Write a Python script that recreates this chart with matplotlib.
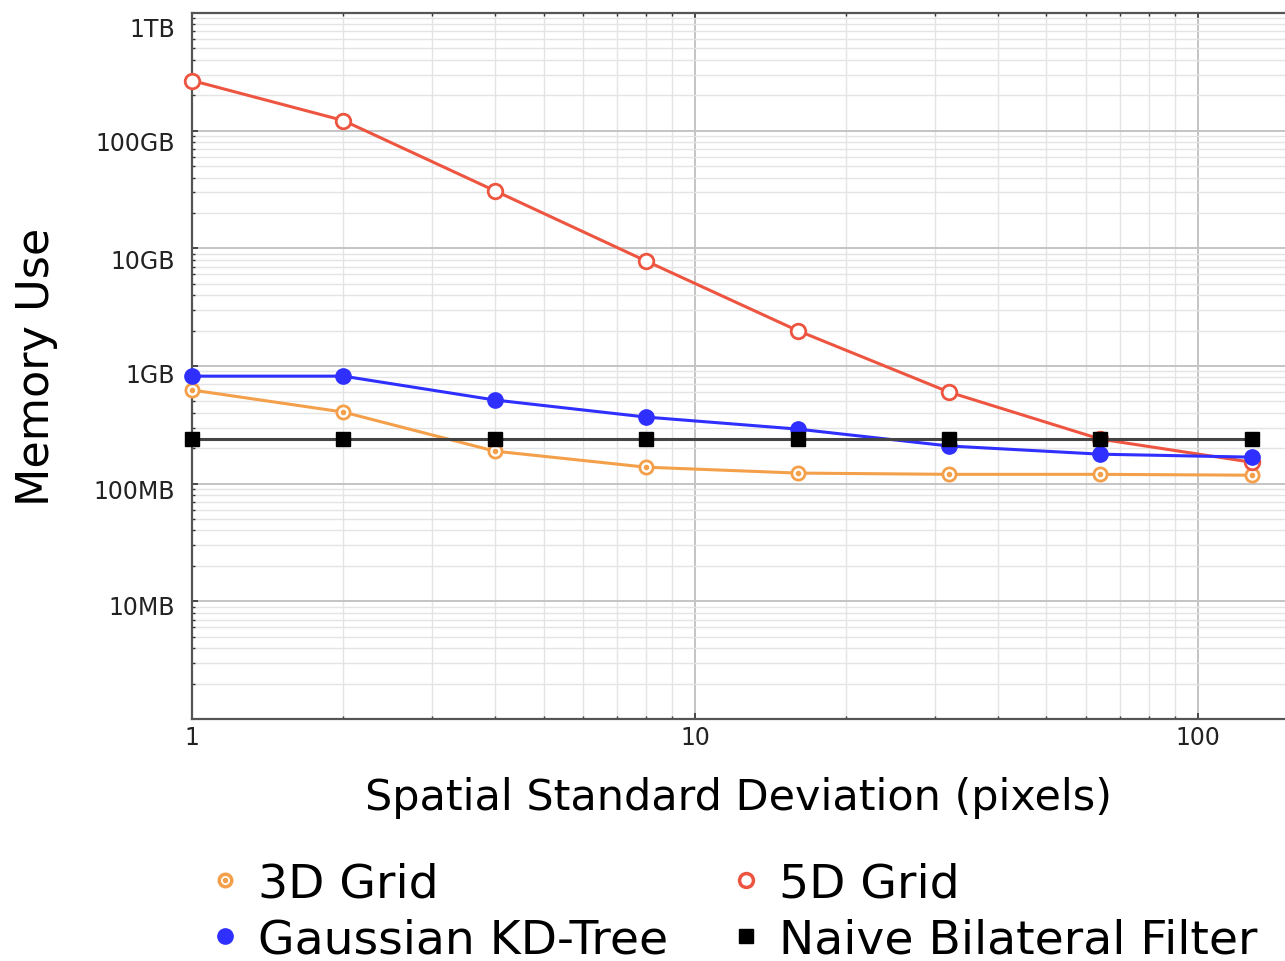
import numpy as np
import matplotlib.pyplot as plt
from matplotlib.lines import Line2D
from matplotlib.ticker import FixedLocator, NullFormatter, LogLocator
from matplotlib.transforms import ScaledTranslation

# spatial sigma (pixels) and memory use in GB
sigma = [1, 2, 4, 8, 16, 32, 64, 128]
grid3d = [0.625, 0.406, 0.189, 0.138, 0.123, 0.120, 0.120, 0.118]
grid5d = [267, 122, 30.9, 7.8, 2.0, 0.60, 0.239, 0.152]
kdtree = [0.82, 0.82, 0.514, 0.368, 0.291, 0.209, 0.178, 0.168]
naive = [0.239, 0.239, 0.239, 0.239, 0.239, 0.239, 0.239, 0.239]

ytick_vals = [0.01, 0.1, 1, 10, 100, 1000]
ytick_labels = ["10MB", "100MB", "1GB", "10GB", "100GB", "1TB"]
label_drop = [3, 5, 6, 10, 10, 13]   # px each y label sits below its tick

orange = "#f4a04a"
red = "#ee5541"
blue = "#2f2fff"

fig = plt.figure(figsize=(12.85, 9.62), dpi=100)
ax = fig.add_axes([0.1494, 0.2516, 0.8506, 0.7338])

ax.plot(sigma, grid3d, color=orange, lw=2.2, marker="o", ms=9.5,
        mfc="white", mec=orange, mew=2, zorder=3, clip_on=False)
ax.plot(sigma, grid3d, ls="none", marker="o", ms=3, color=orange,
        zorder=3.1, clip_on=False)
ax.plot(sigma, grid5d, color=red, lw=2.2, marker="o", ms=10.5,
        mfc="white", mec=red, mew=2, zorder=4, clip_on=False)
ax.plot(sigma, kdtree, color=blue, lw=2.2, marker="o", ms=11,
        mfc=blue, mec=blue, zorder=5, clip_on=False)
ax.plot(sigma, naive, color="#444444", lw=2.2, marker="s", ms=10,
        mfc="black", mec="black", zorder=6, clip_on=False)

ax.set_xscale("log")
ax.set_yscale("log")
ax.set_xlim(1, 149)
ax.set_ylim(0.001, 1000)

ax.yaxis.set_major_locator(FixedLocator(ytick_vals))
ax.set_yticklabels(ytick_labels)
ax.yaxis.set_minor_locator(LogLocator(base=10, subs=np.arange(2, 10)))
ax.yaxis.set_minor_formatter(NullFormatter())
ax.set_xticks([1, 10, 100])
ax.set_xticklabels(["1", "10", "100"])
ax.xaxis.set_minor_formatter(NullFormatter())

ax.grid(which="major", color="#c4c4c4", lw=1.4)
ax.grid(which="minor", color="#e4e4e4", lw=1.0)
ax.set_axisbelow(True)

ax.spines["right"].set_visible(False)
for s in ["left", "bottom", "top"]:
    ax.spines[s].set_color("#555555")
    ax.spines[s].set_linewidth(1.6)

ax.tick_params(which="both", direction="in", top=True, right=False,
               color="#333333", labelsize=17, labelcolor="#222222")
ax.tick_params(which="major", length=4, width=1.2)
ax.tick_params(which="minor", length=2.5, width=1)
ax.tick_params(axis="y", pad=12)
ax.tick_params(axis="x", pad=4)

for lbl, d in zip(ax.get_yticklabels(), label_drop):
    lbl.set_transform(lbl.get_transform() +
                      ScaledTranslation(0, -d / 100, fig.dpi_scale_trans))

ax.set_xlabel("Spatial Standard Deviation (pixels)", fontsize=31, labelpad=20)
ax.set_ylabel("Memory Use", fontsize=32, labelpad=26)

handles = [
    (Line2D([], [], ls="none", marker="o", ms=9, mfc="white", mec=orange, mew=2.5),
     Line2D([], [], ls="none", marker="o", ms=3, color=orange)),
    Line2D([], [], ls="none", marker="o", ms=11, color=blue),
    Line2D([], [], ls="none", marker="o", ms=10, mfc="white", mec=red, mew=2.5),
    Line2D([], [], ls="none", marker="s", ms=10, color="black"),
]
labels = ["3D Grid", "Gaussian KD-Tree", "5D Grid", "Naive Bilateral Filter"]
fig.legend(handles, labels, ncol=2, loc="upper left",
           bbox_to_anchor=(0.164, 0.103), frameon=False, fontsize=34,
           handlelength=0.6, handletextpad=0.4, columnspacing=1.34,
           labelspacing=0.23, borderpad=0, borderaxespad=0)

fig.savefig("out.png", dpi=100)
